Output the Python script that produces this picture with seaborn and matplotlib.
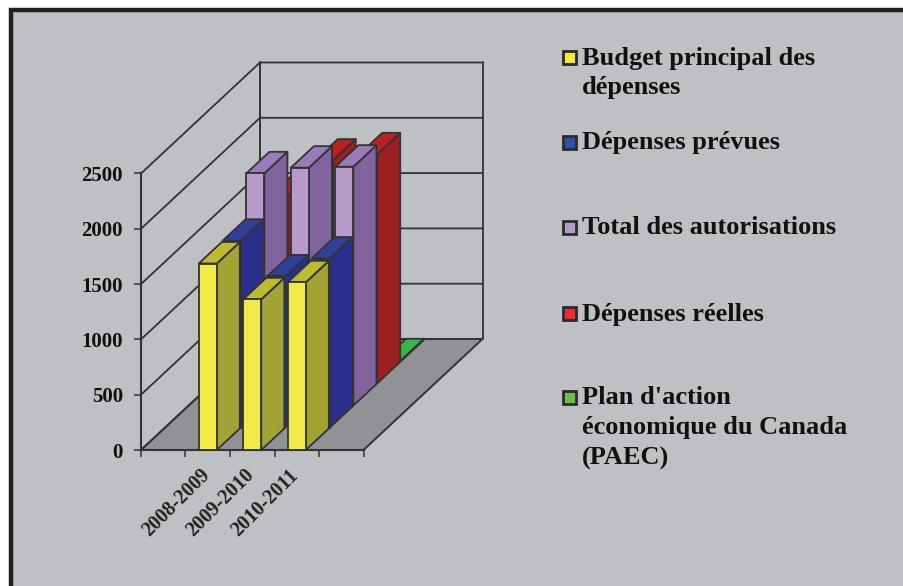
import matplotlib
matplotlib.use("Agg")
import matplotlib.pyplot as plt
from matplotlib.patches import Polygon, Rectangle
from matplotlib.transforms import Affine2D
import numpy as np
import seaborn as sns

# ---- data ----
years = ["2008-2009", "2009-2010", "2010-2011"]
series_names = ["Budget principal des\ndépenses", "Dépenses prévues", "Total des autorisations",
                "Dépenses réelles", "Plan d'action\néconomique du Canada\n(PAEC)"]
budget = [1686, 1362, 1516]
prevues = [1691, 1368, 1530]
autorisations = [2100, 2151, 2160]
reelles = [1697, 2014, 2071]
paec = [0, 0, 8]
y_ticks = [0, 500, 1000, 1500, 2000, 2500]

# ---- styles ----
front = ["#F0EA45", "#2E3A96", "#B89ACA", "#E02A2A", "#3FBF50"]
side = ["#A3A335", "#2A2F8B", "#81639D", "#9C2020", "#2FA040"]
top = ["#BDBC30", "#2F3F9A", "#9A7BB8", "#B82222", "#38B54A"]
legend_fill = ["#F2EC3C", "#2F4FA8", "#B89ACA", "#EE2B2B", "#6CBE45"]
BG, FLOOR, INK = "#BFC0C4", "#919295", "#333335"
W, H = 904, 586

sns.set_theme(style="white")
plt.rcParams["font.family"] = ["Liberation Serif", "DejaVu Serif"]
plt.rcParams["font.weight"] = "bold"

fig = plt.figure(figsize=(W / 100, H / 100), dpi=100, facecolor="white")

# background panel and its left/top frame
bg = fig.add_axes([0, 0, 1, 1], zorder=0)
bg.set_xlim(0, W)
bg.set_ylim(H, 0)
bg.axis("off")
bg.add_patch(Rectangle((11, 10), W, H, fc=BG, ec="#231F20", lw=3.2))

# plot axes cover the front plane of the chart
x0, x1, y_base, y_top = 141, 363.5, 450, 173.5
ax = fig.add_axes([x0 / W, 1 - y_base / H, (x1 - x0) / W, (y_base - y_top) / H], zorder=1)
ax.patch.set_alpha(0)

XMAX, YMAX = 5, 2500
px_x = (x1 - x0) / XMAX
px_y = (y_base - y_top) / YMAX
DX = (119 / 5) / px_x     # one depth step, in x units
DY = (22.2) / px_y        # one depth step, in value units
BAR_W = 18 / px_x
BAR_D = 0.97
positions = np.array([1.5, 2.5, 3.5])


def P(x, v, d):
    return (x + d * DX, v + d * DY)


def add(points, fc, ec=INK, lw=1.3, z=1):
    ax.add_patch(Polygon(points, closed=True, fc=fc, ec=ec, lw=lw, zorder=z,
                         clip_on=False, joinstyle="round"))


# floor and walls
D = 5
add([P(0, 0, 0), P(XMAX, 0, 0), P(XMAX, 0, D), P(0, 0, D)], FLOOR, lw=1.4, z=1)
for v in y_ticks:
    ax.plot(*zip(P(0, v, 0), P(0, v, D), P(XMAX, v, D)), color=INK, lw=1.3,
            zorder=1, clip_on=False)
ax.plot(*zip(P(0, 0, D), P(0, YMAX, D)), color=INK, lw=1.4, zorder=1, clip_on=False)
ax.plot(*zip(P(XMAX, 0, D), P(XMAX, YMAX, D)), color=INK, lw=1.3, zorder=1, clip_on=False)

# bars, painted from the back row to the front row
all_values = [budget, prevues, autorisations, reelles, paec]
for d in range(4, -1, -1):
    vals = all_values[d]
    n_before = len(ax.patches)
    sns.barplot(x=positions, y=vals, native_scale=True, width=BAR_W, color=front[d],
                saturation=1, errorbar=None, ax=ax, zorder=10 + 3 * (4 - d) + 2,
                edgecolor=INK, linewidth=1.3, legend=False)
    for bar in ax.patches[n_before:]:
        bar.set_xy((bar.get_x() + d * DX, bar.get_y() + d * DY))
        bar.set_clip_on(False)
        bar.set_zorder(10 + 3 * (4 - d) + 2)
    for xc, v in zip(positions, vals):
        xl, xr = xc - BAR_W / 2, xc + BAR_W / 2
        base = 10 + 3 * (4 - d)
        add([P(xr, 0, d), P(xr, v, d), P(xr, v, d + BAR_D), P(xr, 0, d + BAR_D)], side[d], z=base)
        add([P(xl, v, d), P(xr, v, d), P(xr, v, d + BAR_D), P(xl, v, d + BAR_D)], top[d], z=base + 1)

# axes furniture
ax.set_xlim(0, XMAX)
ax.set_ylim(0, YMAX)
ax.set_xlabel("")
ax.set_ylabel("")
for name in ("top", "right"):
    ax.spines[name].set_visible(False)
for name in ("left", "bottom"):
    ax.spines[name].set_color(INK)
    ax.spines[name].set_linewidth(1.5)
    ax.spines[name].set_zorder(2)
ax.set_yticks(y_ticks)
ax.set_yticklabels([str(v) for v in y_ticks], fontsize=15, fontweight="bold", color="#111111")
ax.tick_params(axis="y", length=5, width=1.1, color=INK, left=True, pad=8)
ax.set_xticks(range(XMAX + 1))
ax.set_xticklabels([""] * (XMAX + 1))
ax.tick_params(axis="x", which="major", length=5, width=1.1, color=INK, bottom=True)
ax.set_xticks(positions - 0.18, minor=True)
ax.set_xticklabels(years, minor=True, rotation=45, ha="right", va="top",
                   rotation_mode="anchor", fontsize=14.5, fontweight="bold", color="#222222")
ax.tick_params(axis="x", which="minor", length=0, pad=11, bottom=True)

# legend
legend_box_y = [57, 142, 227, 313, 397]
for name, fill, yc in zip(series_names, legend_fill, legend_box_y):
    bg.add_patch(Rectangle((563, yc - 6.5), 13.5, 13.5, fc=fill, ec="#2B2B2D", lw=2.0, zorder=3))
    bg.text(582, yc, name, fontsize=19, fontweight="bold", color="#111111",
            va="top", ha="left", linespacing=1.38,
            transform=bg.transData + Affine2D().translate(0, 10.5))

fig.savefig("out.png", dpi=100, facecolor="white")
